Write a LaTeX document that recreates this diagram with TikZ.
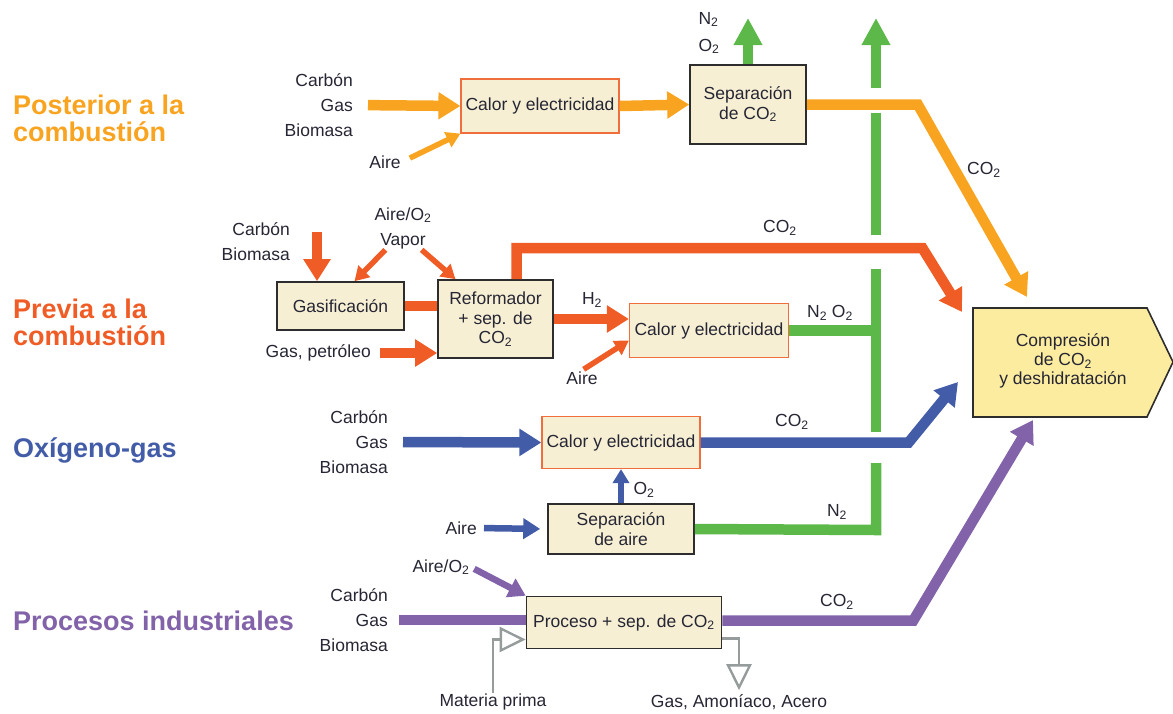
\documentclass[tikz,border=0pt]{standalone}
\usepackage{fontspec}
\setmainfont{Liberation Sans}
\usetikzlibrary{arrows.meta}

\definecolor{postcol}{RGB}{248,164,32}
\definecolor{precol}{RGB}{240,92,38}
\definecolor{oxicol}{RGB}{66,92,168}
\definecolor{indcol}{RGB}{130,98,168}
\definecolor{gascol}{RGB}{92,184,72}
\definecolor{boxfill}{RGB}{246,239,212}
\definecolor{compfill}{RGB}{252,236,160}
\definecolor{boxedge}{RGB}{45,45,45}
\definecolor{hotedge}{RGB}{240,110,60}
\definecolor{txt}{RGB}{38,38,52}
\definecolor{pipe}{RGB}{150,156,156}

\begin{document}
\begin{tikzpicture}
		[x=1pt,y=-1pt,
		every node/.style={text=txt,inner sep=1pt,font=\fontsize{17.5}{25}\selectfont},
		cat/.style={font=\bfseries\fontsize{27}{27}\selectfont,align=left,anchor=west},
		unit/.style={draw=boxedge,fill=boxfill,line width=1.6pt,align=center,
			inner sep=0pt,font=\fontsize{17.5}{19.5}\selectfont},
		power/.style={unit,draw=hotedge,line width=1.2pt},
		feed/.style={align=right,anchor=east},
		fat/.style={line width=10.5pt,-{Triangle[width=26pt,length=22pt]}},
		mid/.style={line width=6.5pt,-{Triangle[width=20pt,length=17pt]}},
		slim/.style={line width=5.5pt,-{Triangle[width=16pt,length=14pt]}},
		flow/.style={line width=10.5pt},
		vent/.style={flow,gascol},
		pipeline/.style={pipe,line width=2.4pt,-{Triangle[open,width=25pt,length=26pt]}}]
		\useasboundingbox (0,0) rectangle (1173,713);
		%% row labels
		\node[cat,text=postcol] (post) at (12,118) {Posterior a la\\combustión};
		\node[cat,text=precol] (prev) at (12,322) {Previa a la\\combustión};
		\node[cat,text=oxicol] (oxi) at (12,450) {Oxígeno-gas};
		\node[cat,text=indcol] (indu) at (12,621) {Procesos industriales};
		%% posterior
		\node[feed] (fuelA) at (354,105) {Carbón\\Gas\\Biomasa};
		\node (airA) at (385,162) {Aire};
		\node[power,minimum width=158pt,minimum height=54pt] (heatA) at (540,106) {Calor y electricidad};
		\node[unit,minimum width=116pt,minimum height=79pt] (sepA) at (748,104.5) {Separación\\de CO\textsubscript{2}};
		\node[align=left,font=\fontsize{17.5}{27}\selectfont] (gasA) at (709,33) {N\textsubscript{2}\\O\textsubscript{2}};
		\node (co2A) at (984,170) {CO\textsubscript{2}};
		\coordinate (ventA) at (748,18);
		%% previa
		\node[feed] (fuelB) at (291,242) {Carbón\\Biomasa};
		\node[align=center] (steamB) at (403,228) {Aire/O\textsubscript{2}\\Vapor};
		\node[unit,minimum width=127pt,minimum height=48pt] (gasif) at (340.5,306) {Gasificación};
		\node[unit,minimum width=115pt,minimum height=78pt] (reform) at (495.5,319) {Reformador\\+ sep. de\\CO\textsubscript{2}};
		\node[feed] (oilB) at (372,353) {Gas, petróleo};
		\node[power,minimum width=159pt,minimum height=54pt] (heatB) at (709,330.5) {Calor y electricidad};
		\node (airB) at (582,378) {Aire};
		\node (h2B) at (592,300) {H\textsubscript{2}};
		\node (gasB) at (830,313) {N\textsubscript{2} O\textsubscript{2}};
		\node (co2B) at (780,228) {CO\textsubscript{2}};
		\coordinate (topB) at (317,232);
		%% oxigeno
		\node[feed] (fuelC) at (389,442) {Carbón\\Gas\\Biomasa};
		\node[power,minimum width=158pt,minimum height=52pt] (heatC) at (621,442.5) {Calor y electricidad};
		\node[feed] (airC) at (478,528) {Aire};
		\node[unit,minimum width=146pt,minimum height=50pt] (asu) at (621,529) {Separación\\de aire};
		\node (o2C) at (644,490) {O\textsubscript{2}};
		\node (co2C) at (792,422) {CO\textsubscript{2}};
		\node (n2C) at (837,512) {N\textsubscript{2}};
		%% industriales
		\node (airD) at (441,567) {Aire/O\textsubscript{2}};
		\node[feed] (fuelD) at (389,620) {Carbón\\Gas\\Biomasa};
		\node[unit,minimum width=195pt,minimum height=52pt] (proc) at (624,622.5) {Proceso + sep. de CO\textsubscript{2}};
		\node (rawD) at (493,702) {Materia prima};
		\node (prodD) at (739,702) {Gas, Amoníaco, Acero};
		\node (co2D) at (837,602) {CO\textsubscript{2}};
		%% compresion
		\draw[fill=compfill,draw=boxedge,line width=1.6pt]
			(973,308) -- (1147,308) -- (1173,362) -- (1147,417) -- (973,417) -- cycle;
		\node[align=center,font=\fontsize{17.5}{19}\selectfont] (comp) at (1063,361)
			{Compresión\\de CO\textsubscript{2}\\y deshidratación};
		\coordinate (inPost) at (1027,297);
		\coordinate (inPre) at (962,312);
		\coordinate (inOxi) at (958,382);
		\coordinate (inInd) at (1033,420);
		%% green vent lines
		\coordinate (stack) at (876,530);
		\coordinate (ventB) at (876,18);
		\draw[vent] (asu.east) -- (stack) -- (stack |- 0,463);
		\foreach \lo/\hi in {432/269,235/113}
			\draw[vent] (stack |- 0,\lo) -- (stack |- 0,\hi);
		\draw[vent,-{Triangle[width=27pt,length=27pt]}] (stack |- 0,88) -- (ventB);
		\draw[vent,-{Triangle[width=27pt,length=27pt]}] (sepA.north) -- (ventA);
		\draw[vent] (heatB.east) -- (heatB.east -| stack);
		%% feeds
		\path
		\foreach \startNode/\endNode/\col in {fuelA/heatA/postcol,fuelC/heatC/oxicol}
		{
			(\startNode.east) edge[fat,\col,shorten <=14pt] (\endNode.west)
		};
		\draw[slim,postcol,shorten <=9pt] (airA.east) -- (heatA.south west);
		\draw[fat,postcol] (heatA.east) -- (sepA.west);
		\draw[fat,postcol] (sepA.east) -- ++(111,0) -- (inPost);
		%%
		\draw[fat,precol] (topB) -- (topB |- gasif.north);
		\draw[slim,precol] ([xshift=12pt]steamB.south west) -- ([xshift=14pt]gasif.north);
		\draw[slim,precol] ([xshift=-11pt]steamB.south east) -- ([xshift=-40pt]reform.north);
		\draw[flow,precol] (gasif.east) -- (gasif.east -| reform.west);
		\draw[fat,precol,shorten <=8pt] (oilB.east) -- (oilB.east -| reform.west);
		\draw[fat,precol] (reform.east) -- (reform.east -| heatB.west);
		\draw[slim,precol,shorten <=2pt] (airB.north) -- ([yshift=-10pt]heatB.west);
		\draw[fat,precol] ([xshift=21pt]reform.north) -- ++(0,-31) -- ++(406,0) -- (inPre);
		%%
		\draw[fat,oxicol] (heatC.east) -- ++(208,0) -- (inOxi);
		\draw[slim,oxicol] (asu.north) -- (heatC.south);
		\draw[mid,oxicol,shorten <=6pt,shorten >=7pt] (airC.east) -- (asu.west);
		%%
		\draw[mid,indcol,shorten <=4pt] (airD.east) -- (proc.north west);
		\draw[flow,indcol,shorten <=10pt] (fuelD.east) -- (fuelD.east -| proc.west);
		\draw[fat,indcol] ([yshift=2pt]proc.east) -- ++(191,0) -- (inInd);
		\draw[pipeline] (rawD.north) |- ([yshift=-17pt]proc.west);
		\draw[pipeline] ([yshift=-16pt]proc.east) -| ([yshift=3pt]prodD.north);
\end{tikzpicture}
\end{document}
